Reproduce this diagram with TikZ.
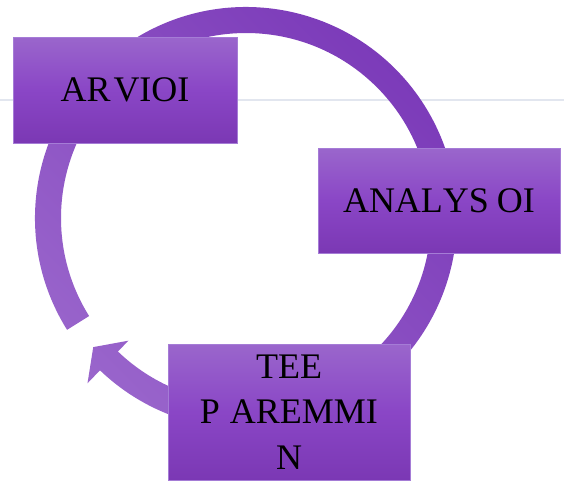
\documentclass[tikz,border=0pt]{standalone}
\usepackage{fontspec}
\setmainfont{Liberation Serif}[Kerning=Off]
\definecolor{boxtop}{HTML}{9A66CC}
\definecolor{boxmid}{HTML}{8A46C6}
\definecolor{boxbot}{HTML}{7B38B4}
\definecolor{boxedge}{HTML}{A57CD6}
\definecolor{ringlight}{HTML}{9A66CC}
\definecolor{ringdark}{HTML}{7A38B8}
\definecolor{guideline}{HTML}{E2E6EF}
\tikzset{
  stepbox/.style={rectangle, draw=boxedge, line width=0.8pt,
    top color=boxtop, bottom color=boxbot, middle color=boxmid,
    inner sep=0pt, align=center, text=black,
    font=\fontsize{36}{45.5}\selectfont},
  ringshade/.style={top color=ringdark, bottom color=ringlight, shading angle=-45},
  guide/.style={draw=guideline, line width=2pt}
}
\begin{document}
\begin{tikzpicture}[x=1pt,y=1pt]
\useasboundingbox (0,0) rectangle (564,-483);
% faint horizontal guide line
\coordinate (gl) at (0,-100);
\coordinate (gr) at (564,-100);
\draw[guide] (gl) -- (gr);
% circular arrow
\coordinate (C) at (246,-218);
\shade[ringshade]
  ([shift={(212:211)}]C) arc[start angle=212, end angle=-133.8, radius=211]
  -- ([shift={(-133.8:229)}]C)
  -- ([shift={(-139.8:200)}]C)
  -- ([shift={(-133.8:170)}]C)
  -- ([shift={(-133.8:185)}]C)
  arc[start angle=-133.8, end angle=212, radius=185]
  -- cycle;
% boxes
\node[stepbox, minimum width=224, minimum height=106] (arv) at (125,-90) {AR\kern3pt VIOI};
\node[stepbox, minimum width=242, minimum height=105] (ana) at (439,-200.5) {ANALYS\kern8pt OI};
\node[stepbox, minimum width=242, minimum height=136] (tee) at (289,-412) {TEE\\P\kern10pt AREMMI\\N};
\end{tikzpicture}
\end{document}
